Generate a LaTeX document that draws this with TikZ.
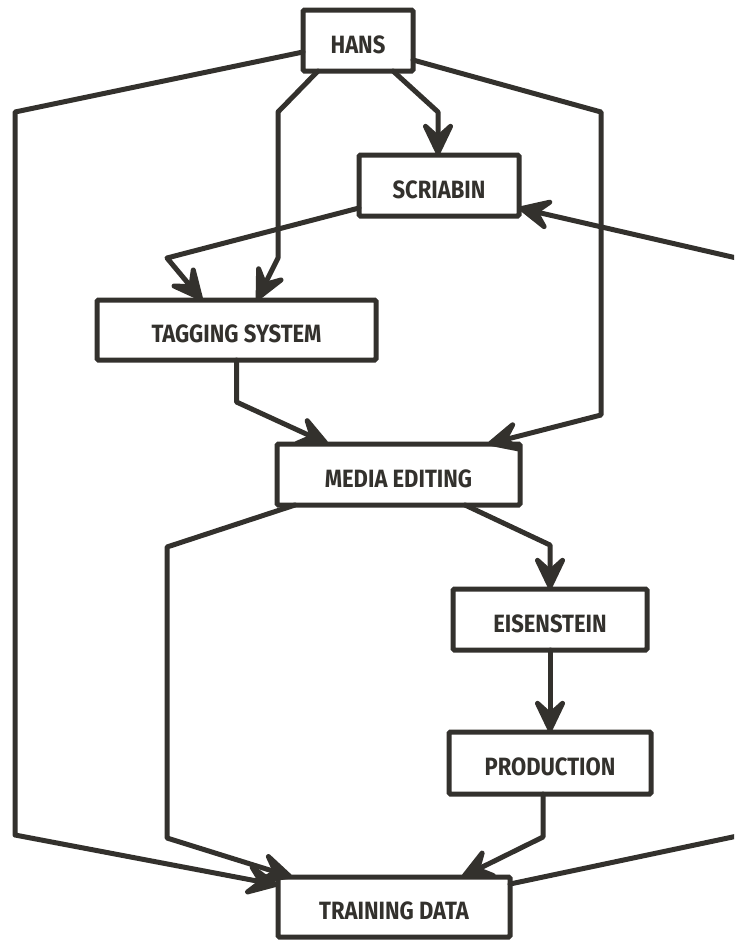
\documentclass[tikz,border=0pt]{standalone}
\usepackage{fontspec}
\newfontfamily\lblfont[FakeStretch=0.88]{Fira Sans}
\usetikzlibrary{arrows.meta}
\definecolor{ink}{HTML}{33312D}
\tikzset{
  box/.style={draw=ink, line width=5pt, rounded corners=1.5pt, fill=white, outer sep=0pt, inner sep=0pt,
    text=ink, text height=25pt, text depth=0pt, font=\lblfont\bfseries\fontsize{25}{28}\selectfont},
  arr/.style={draw=ink, line width=5pt, line join=round, line cap=round,
    arrows={-{Stealth[length=42pt, width=40pt, inset=18pt, round]}}}
}
\begin{document}
\begin{tikzpicture}[x=1pt, y=-1pt]
\useasboundingbox (0,0) rectangle (734,940);
\clip (0,0) rectangle (734,940);
\fill[white] (0,0) rectangle (734,940);

\coordinate (b1) at (438,112);
\coordinate (b2a) at (278,112);
\coordinate (b2b) at (278,258);
\coordinate (b3) at (167,258);
\coordinate (b4a) at (15,112);
\coordinate (b4b) at (15,835);
\coordinate (b5a) at (601,112);
\coordinate (b5b) at (601,415);
\coordinate (b6) at (236.5,402);
\coordinate (b7) at (550,545);
\coordinate (b8a) at (167,547);
\coordinate (b8b) at (167,838);
\coordinate (b10) at (543,837);
\coordinate (b11a) at (780,827);
\coordinate (b11b) at (780,268);

\node[box, minimum width=110pt, minimum height=61pt] (hans) at (358,40.5) {HANS};
\node[box, minimum width=160pt, minimum height=61pt] (scriabin) at (439,185.5) {SCRIABIN};
\node[box, minimum width=279pt, minimum height=60pt] (tagging) at (236.5,330) {TAGGING SYSTEM};
\node[box, minimum width=243pt, minimum height=61pt] (media) at (398.5,474.5) {MEDIA EDITING};
\node[box, minimum width=194pt, minimum height=61pt] (eisen) at (550,619.5) {EISENSTEIN};
\node[box, minimum width=202pt, minimum height=62pt] (prod) at (550,763) {PRODUCTION};
\node[box, minimum width=232pt, minimum height=60pt] (train) at (394,907) {TRAINING DATA};

\draw[arr] ([xshift=35pt]hans.south) -- (b1) -- (scriabin.north -| b1);
\draw[arr] ([xshift=-40pt]hans.south) -- (b2a) -- (b2b) -- ([xshift=20.5pt]tagging.north);
\draw[arr] ([yshift=-22.5pt]scriabin.west) -- (b3) -- ([xshift=-34.5pt]tagging.north);
\draw[arr] ([yshift=-11.5pt]hans.west) -- (b4a) -- (b4b) -- ([yshift=22pt]train.west);
\draw[arr] ([yshift=-19.5pt]hans.east) -- (b5a) -- (b5b) -- ([xshift=89.5pt]media.north);
\draw[arr] (tagging.south) -- (b6) -- ([xshift=-70.5pt]media.north);
\draw[arr] ([xshift=66.5pt]media.south) -- (b7) -- (eisen.north);
\draw[arr] ([xshift=-103.5pt]media.south) -- (b8a) -- (b8b) -- ([xshift=-102pt]train.north);
\draw[arr] (eisen.south) -- (prod.north);
\draw[arr] ([xshift=-7pt]prod.south) -- (b10) -- ([xshift=68pt]train.north);
\draw[arr] ([yshift=23pt]train.east) -- (b11a) -- (b11b) -- ([yshift=-22.5pt]scriabin.east);
\end{tikzpicture}
\end{document}
